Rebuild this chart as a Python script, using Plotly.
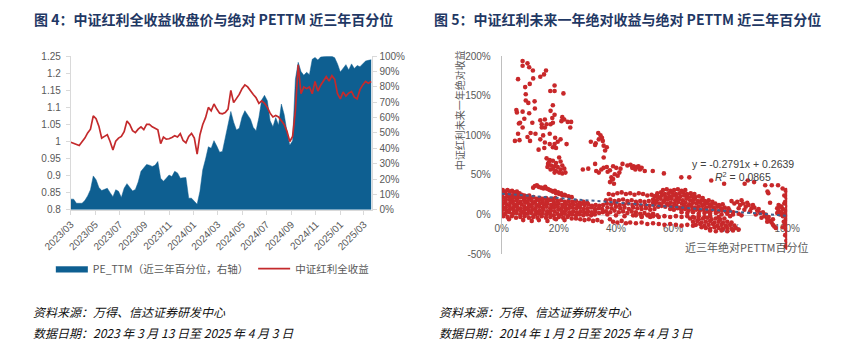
import pandas as pd
import plotly.graph_objects as go

# ---------------- left chart: weekly series, 2023-03-13 .. 2025-04-03 ----------------
start_date = "2023-03-13"
end_date = "2025-04-03"

# PE_TTM percentile over trailing three years (%), right axis
pe_pct = [
    6.9, 6.9, 4.2, 4.0, 4.2, 6.0, 9.0, 13.0, 22.0, 19.5,
    14.5, 12.5, 13.5, 14.0, 11.1, 8.5, 13.0, 12.0, 8.0, 14.0,
    17.0, 14.5, 12.2, 13.2, 18.0, 25.0, 27.3, 29.5, 29.0, 28.2,
    28.9, 31.4, 20.5, 18.5, 20.5, 22.6, 21.6, 25.0, 24.0, 20.5,
    20.8, 21.0, 7.5, 7.5, 5.5, 3.5, 12.0, 26.0, 33.0, 41.0,
    40.0, 45.0, 41.5, 37.5, 38.0, 47.0, 55.0, 64.0, 57.0, 52.0,
    53.0, 60.4, 64.5, 62.0, 59.0, 53.5, 51.5, 60.0, 71.5, 74.5,
    71.0, 58.0, 54.0, 60.0, 55.0, 68.8, 62.0, 51.0, 42.0, 45.0,
    85.0, 96.0, 90.0, 87.6, 89.5, 88.0, 98.0, 99.2, 97.5, 99.5,
    100.0, 100.0, 100.0, 100.0, 99.0, 95.0, 89.7, 92.5, 94.5, 91.0,
    95.0, 92.0, 93.9, 93.2, 95.0, 96.8, 97.3, 97.7,
]

# CSI Dividend total-return index (normalised close), left axis
index_close = [
    0.998, 0.994, 0.990, 0.988, 0.999, 1.010, 1.025, 1.036, 1.075, 1.067,
    1.045, 1.010, 1.015, 1.020, 1.000, 0.975, 1.001, 1.010, 1.015, 1.029,
    1.060, 1.050, 1.032, 1.026, 1.036, 1.043, 1.035, 1.050, 1.050, 1.043,
    1.039, 1.034, 0.994, 1.013, 1.007, 1.008, 1.012, 1.017, 1.013, 1.023,
    1.003, 0.996, 1.015, 1.024, 1.010, 0.963, 1.020, 1.050, 1.070, 1.100,
    1.090, 1.110, 1.095, 1.083, 1.081, 1.085, 1.095, 1.150, 1.114, 1.125,
    1.138, 1.155, 1.166, 1.160, 1.147, 1.138, 1.128, 1.112, 1.119, 1.112,
    1.100, 1.083, 1.072, 1.076, 1.072, 1.059, 1.050, 1.030, 1.000, 1.015,
    1.090, 1.225, 1.140, 1.160, 1.155, 1.160, 1.140, 1.176, 1.148, 1.165,
    1.178, 1.190, 1.177, 1.193, 1.182, 1.140, 1.125, 1.145, 1.133, 1.142,
    1.147, 1.130, 1.125, 1.152, 1.166, 1.176, 1.171, 1.176,
]

month_labels = ["2023/03", "2023/05", "2023/07", "2023/09", "2023/11",
                "2024/01", "2024/03", "2024/05", "2024/07", "2024/09",
                "2024/11", "2025/01", "2025/03"]

left_ticks = [0.8, 0.85, 0.9, 0.95, 1.0, 1.05, 1.1, 1.15, 1.2, 1.25]
right_ticks = [0, 0.1, 0.2, 0.3, 0.4, 0.5, 0.6, 0.7, 0.8, 0.9, 1.0]

# ---------------- right chart: (PE percentile %, forward 1y return %) ----------------
high_return_cloud = [
    (7.3, 194), (9.0, 191), (9.6, 186), (7.3, 188), (10.9, 182), (15.5, 182),
    (14.8, 177), (13.5, 174), (5.7, 171), (11.0, 172), (9.8, 165), (8.2, 161),
    (18.5, 163), (17.0, 156), (18.5, 156), (21.6, 153), (8.4, 152), (8.4, 144),
    (11.5, 143), (9.3, 141), (17.9, 138), (5.1, 132), (5.3, 129), (7.3, 130),
    (9.6, 128), (11.6, 134), (17.1, 131), (18.5, 126), (17.7, 122), (21.2, 123),
    (21.9, 120), (20.9, 118), (23.1, 117), (24.3, 117), (24.0, 110), (15.1, 120),
    (13.5, 119), (14.0, 114), (15.7, 114), (17.1, 114), (17.9, 116), (10.7, 116),
    (6.4, 116), (6.0, 115), (7.9, 121), (7.3, 110), (14.0, 110), (15.1, 110),
    (10.1, 103), (5.7, 102), (11.8, 102), (14.5, 100), (16.8, 102), (18.7, 97),
    (4.6, 93), (6.2, 94), (9.0, 98), (9.9, 93), (13.5, 95), (15.1, 91),
    (16.8, 89), (18.5, 89), (19.6, 92), (20.6, 95), (22.7, 89), (17.9, 85),
    (19.0, 84), (12.9, 82), (14.9, 84),
    (33.8, 103), (34.6, 100), (35.1, 97), (35.4, 93), (31.2, 92), (32.9, 90),
    (35.7, 87), (36.2, 81), (35.7, 72), (34.0, 95), (36.8, 85), (32.7, 88),
]

mid_return_cloud = [
    (15.7, 71), (16.8, 69), (17.9, 68), (16.2, 64), (17.3, 62), (18.5, 61),
    (19.6, 60), (20.6, 57), (20.1, 53), (21.2, 52), (22.3, 53), (19.0, 55),
    (20.1, 72), (20.6, 67), (21.2, 62), (16.0, 60), (17.1, 57), (18.5, 53),
    (16.5, 66), (19.0, 65), (21.9, 58), (18.0, 58),
    (28.4, 57), (30.3, 58), (32.7, 64), (33.1, 55), (34.0, 53), (34.9, 57),
    (35.7, 59), (36.8, 60), (37.1, 54), (37.9, 56), (39.0, 61), (40.1, 59),
    (41.6, 58), (42.3, 64), (41.2, 53), (39.6, 51), (38.4, 47), (39.0, 45),
    (40.6, 49), (37.9, 41), (39.3, 39), (38.6, 44), (44.0, 62), (45.1, 63),
    (46.2, 61), (47.3, 60), (48.4, 57), (45.7, 59), (46.8, 57), (47.9, 61),
    (49.0, 59), (50.1, 55), (52.9, 55), (56.8, 52),
    (62.9, 47), (65.7, 47), (73.4, 43), (77.9, 39), (85.1, 39), (86.2, 43),
    (88.4, 41), (92.3, 37), (94.6, 37), (98.4, 33), (99.6, 31), (93.4, 27),
    (94.0, 15), (96.8, 37), (99.0, 24), (93.1, 29),
]

low_pe_band = [
    (0.3, 31), (1.2, 29), (2.0, 31), (2.8, 29), (3.6, 30), (4.4, 28), (5.3, 29), (6.2, 27),
    (0.2, 26), (1.0, 27), (1.9, 25), (2.7, 26), (3.5, 24), (4.4, 26), (5.2, 25), (6.1, 24),
    (7.0, 25), (7.9, 24), (8.8, 23), (9.6, 24),
    (0.1, 22), (1.2, 21), (2.3, 23), (3.4, 21), (4.5, 22), (5.6, 21), (6.7, 22), (7.8, 20),
    (8.9, 22), (10.0, 21), (11.1, 22), (12.2, 20), (13.3, 21), (14.4, 20), (15.5, 21),
    (16.6, 19), (17.7, 20), (18.8, 21),
    (0.0, 18), (1.3, 17), (2.6, 19), (3.9, 17), (5.2, 18), (6.5, 16), (7.8, 18), (9.1, 17),
    (10.4, 18), (11.7, 16), (13.0, 18), (14.3, 17), (15.6, 16), (16.9, 18), (18.2, 16),
    (19.5, 17), (20.8, 18), (22.1, 16), (23.4, 17), (24.7, 16), (26.0, 17), (27.3, 15),
    (28.6, 16), (29.9, 15),
    (0.4, 14), (1.7, 13), (3.0, 15), (4.3, 13), (5.6, 14), (6.9, 13), (8.2, 15), (9.5, 13),
    (10.8, 14), (12.1, 12), (13.4, 14), (14.7, 13), (16.0, 14), (17.3, 12), (18.6, 13),
    (19.9, 14), (21.2, 12), (22.5, 13), (23.8, 12), (25.1, 13), (26.4, 12), (27.7, 13),
    (29.0, 12), (30.3, 13), (31.6, 11), (32.9, 12), (34.2, 11), (35.5, 12),
    (0.1, 10), (1.4, 9), (2.7, 11), (4.0, 9), (5.3, 10), (6.6, 8), (7.9, 10), (9.2, 9),
    (10.5, 10), (11.8, 8), (13.1, 10), (14.4, 9), (15.7, 10), (17.0, 8), (18.3, 9),
    (19.6, 10), (20.9, 8), (22.2, 9), (23.5, 8), (24.8, 9), (26.1, 8), (27.4, 9),
    (28.7, 7), (30.0, 8), (31.3, 9), (32.6, 7), (33.9, 8), (35.2, 7),
    (0.3, 6), (1.6, 5), (2.9, 7), (4.2, 5), (5.5, 6), (6.8, 4), (8.1, 6), (9.4, 5),
    (10.7, 6), (12.0, 4), (13.3, 5), (14.6, 6), (15.9, 4), (17.2, 5), (18.5, 4),
    (19.8, 6), (21.1, 4), (22.4, 5), (23.7, 3), (25.0, 4), (26.3, 3), (27.6, 4),
    (28.9, 3), (30.2, 4), (31.5, 3), (32.8, 4), (34.1, 2), (35.4, 3),
    (0.0, 2), (1.3, 1), (2.6, 3), (3.9, 1), (5.2, 2), (6.5, 0), (7.8, 2), (9.1, 1),
    (10.4, 2), (11.7, 0), (13.0, 1), (14.3, 2), (15.6, 0), (16.9, 1), (18.2, -1),
    (19.5, 1), (20.8, 0), (22.1, 1), (23.4, -1), (24.7, 0), (26.0, -1), (27.3, 0),
    (28.6, -1), (30.0, 0), (31.3, -1), (32.6, 0),
    (0.5, -2), (2.0, -3), (3.5, -2), (5.0, -4), (6.5, -3), (8.0, -2), (9.5, -4),
    (11.0, -3), (12.5, -4), (14.0, -2), (15.5, -4), (17.0, -3), (18.5, -5), (20.0, -3),
    (21.5, -4), (23.0, -3), (24.5, -5),
    (2.5, -6), (7.5, -7), (10.5, -8), (13.0, -7), (16.0, -8), (19.0, -6), (22.0, -7), (26.0, -5),
    (11.6, 36), (12.9, 35), (14.6, 33), (15.7, 33), (16.8, 31), (17.9, 29), (19.0, 27),
    (20.1, 26), (21.2, 24), (22.3, 24), (12.3, 37), (13.8, 34), (15.2, 35), (16.3, 32),
    (17.4, 30), (18.6, 30), (19.7, 28), (20.8, 27), (22.0, 25), (23.4, 23), (11.0, 34),
    (24.5, 22),
]

mid_pe_band = [
    (37.5, 26), (39.0, 25), (40.5, 27), (42.0, 28), (43.5, 26), (45.0, 27), (46.5, 25),
    (48.0, 27), (49.5, 26), (51.0, 24), (52.5, 25), (54.0, 23),
    (36.5, 18), (38.0, 19), (39.5, 17), (41.0, 18), (42.5, 19), (44.0, 17), (45.5, 18),
    (47.0, 16), (48.5, 17), (50.0, 16), (51.5, 17), (53.0, 15),
    (36.8, 14), (38.3, 13), (39.8, 14), (41.3, 12), (42.8, 13), (44.3, 14), (45.8, 12),
    (47.3, 13), (48.8, 11), (50.3, 12), (51.8, 11), (53.3, 12), (54.8, 10),
    (37.0, 9), (38.5, 8), (40.0, 10), (41.5, 8), (43.0, 9), (44.5, 7), (46.0, 9),
    (47.5, 8), (49.0, 7), (50.5, 8), (52.0, 6), (53.5, 7),
    (36.5, 4), (38.0, 3), (39.5, 5), (41.0, 3), (42.5, 4), (44.0, 2), (45.5, 4),
    (47.0, 3), (48.5, 1), (50.0, 2), (51.5, 0), (53.0, 1), (54.5, -1),
    (37.0, 0), (40.0, -1), (43.0, -2), (46.0, -1), (49.0, -3), (52.0, -3),
    (27.5, -6), (29.0, -7), (30.5, -6), (32.0, -8), (33.5, -7), (35.0, -9), (37.9, -6),
    (39.0, -9), (40.5, -10), (42.0, -8), (43.5, -11), (45.0, -10), (47.0, -11),
    (49.0, -10), (51.0, -12), (53.0, -11), (55.0, -12), (57.0, -13), (59.0, -12),
    (61.0, -13), (63.0, -14), (65.0, -13), (67.0, -14),
]

high_pe_band = [
    (56.5, 31), (57.8, 32), (59.1, 30), (60.4, 31), (61.7, 32), (63.0, 30), (64.3, 31),
    (54.5, 27), (55.8, 28), (57.1, 26), (58.4, 27), (59.7, 28), (61.0, 26), (62.3, 27),
    (63.6, 28), (64.9, 26), (66.2, 27), (67.5, 26),
    (53.5, 23), (54.8, 22), (56.1, 24), (57.4, 22), (58.7, 23), (60.0, 24), (61.3, 22),
    (62.6, 23), (63.9, 24), (65.2, 22), (66.5, 23), (67.8, 22), (69.1, 23), (70.4, 21),
    (53.0, 19), (54.3, 18), (55.6, 20), (56.9, 18), (58.2, 19), (59.5, 20), (60.8, 18),
    (62.1, 19), (63.4, 18), (64.7, 20), (66.0, 18), (67.3, 19), (68.6, 17), (69.9, 18),
    (71.2, 17), (72.5, 18), (73.8, 16),
    (54.0, 15), (55.3, 14), (56.6, 16), (57.9, 14), (59.2, 15), (60.5, 14), (61.8, 16),
    (63.1, 14), (64.4, 15), (65.7, 13), (67.0, 15), (68.3, 14), (69.6, 15), (70.9, 13),
    (72.2, 14), (73.5, 13), (74.8, 14), (76.1, 12), (77.4, 13),
    (56.0, 11), (57.3, 10), (58.6, 12), (59.9, 10), (61.2, 11), (62.5, 9), (63.8, 11),
    (65.1, 10), (66.4, 11), (67.7, 9), (69.0, 10), (70.3, 11), (71.6, 9), (72.9, 10),
    (74.2, 9), (75.5, 10), (76.8, 8), (78.1, 9), (79.4, 8),
    (59.0, 7), (60.3, 6), (61.6, 8), (62.9, 6), (64.2, 7), (65.5, 5), (66.8, 7),
    (68.1, 6), (69.4, 5), (70.7, 6), (72.0, 4), (73.3, 5), (74.6, 6), (75.9, 4),
    (77.2, 5), (78.5, 4), (79.8, 5), (81.1, 3),
    (63.0, 3), (65.0, 2), (67.0, 3), (69.0, 1), (71.0, 2), (73.0, 1), (75.0, 2),
    (77.0, 0), (79.0, 1), (81.0, 0), (83.0, 1),
    (47.0, -1), (49.0, -2), (51.0, -1), (53.0, -2), (55.0, -3), (57.0, -2), (59.0, -3),
    (61.0, -2), (63.0, -3), (65.0, -2), (67.0, -3), (69.0, -2), (71.0, -3), (73.0, -2),
    (76.0, -3), (80.0, -2), (84.0, -1),
    (66.0, -5), (67.5, -4), (69.0, -6), (70.5, -5), (72.0, -4), (73.5, -6), (75.0, -5),
    (76.5, -6), (78.0, -5),
    (67.0, -9), (68.5, -8), (70.0, -10), (71.5, -9), (73.0, -8), (74.5, -10), (76.0, -9),
    (77.5, -10), (79.0, -9), (80.5, -10),
    (68.0, -13), (69.5, -12), (71.0, -14), (72.5, -13), (74.0, -12), (75.5, -14),
    (77.0, -13), (78.5, -14), (80.0, -13), (81.5, -14),
    (70.0, -16), (71.5, -17), (73.0, -18), (74.5, -16), (76.0, -17), (77.5, -18),
    (79.0, -17), (80.5, -18), (82.0, -17),
    (73.0, -20), (75.0, -21), (77.0, -20), (79.0, -21), (81.0, -20), (83.0, -19),
]

top_pe_band = [
    (80.5, 17), (81.5, 14), (82.5, 16), (83.5, 12), (84.5, 14), (85.5, 10), (86.5, 12),
    (87.5, 8), (88.5, 9), (89.5, 5), (90.0, 7), (90.5, 2), (91.5, 3), (92.0, -2),
    (92.5, 0), (93.0, -5), (93.5, -3), (94.0, -8), (94.5, -10), (95.0, -13), (95.5, -15),
    (96.0, -17), (84.0, 18), (86.0, 15), (88.0, 12), (83.0, 8), (85.0, 6), (87.0, 4),
    (89.0, 0), (91.0, -4), (93.0, -9), (95.0, -6),
    (96.5, 8), (97.0, 5), (97.5, 10), (98.0, 3), (98.5, 7), (99.0, 1), (99.5, 5),
    (100.0, 9), (96.5, 2), (97.5, 0), (98.5, -2), (99.5, -1), (100.0, 3), (97.0, 12),
    (99.0, 14), (100.0, 12), (98.0, 10), (100.0, -3), (99.5, -6), (100.0, -9),
    (99.2, -12), (100.0, -15), (99.6, -19), (100.0, -23), (99.3, -26), (100.0, -29),
    (99.7, -33), (100.0, -37), (99.5, -40), (100.0, -42), (98.8, -9), (98.5, -16),
    (99.5, 30), (100.0, 27), (99.7, 22), (100.0, 18), (99.3, 16),
]

trend_slope = -0.2791
trend_intercept = 0.2639
trend_r2 = 0.0865

scatter_ticks = [-0.5, 0, 0.5, 1.0, 1.5, 2.0]
scatter_tick_text = ["-50%", "0%", "50%", "100%", "150%", "200%"]
pct_ticks = [0, 0.2, 0.4, 0.6, 0.8, 1.0]
pct_tick_text = ["0%", "20%", "40%", "60%", "80%", "100%"]

# ---------------- styling / layout helpers ----------------
W, H = 843, 348
BLUE = "#0E5F91"
RED = "#C42A2C"
DOT_RED = "#C8282A"
GREY_TXT = "#595959"
AXIS_GREY = "#D9D9D9"
NAVY = "#1F3864"
LATIN = "Liberation Sans, Noto Sans CJK SC, sans-serif"
CJK = "Noto Sans CJK SC, sans-serif"


def fx(px):
    return px / W


def fy(py):
    return 1 - py / H


dates = pd.date_range(start_date, periods=len(pe_pct), freq="7D")
tick_dates = [lab.replace("/", "-") + "-13" for lab in month_labels]

fig = go.Figure()

fig.add_trace(go.Scatter(
    x=dates, y=[v / 100 for v in pe_pct],
    name="PE_TTM（近三年百分位，右轴）",
    mode="lines", line=dict(color=BLUE, width=0.5),
    fill="tozeroy", fillcolor=BLUE,
    xaxis="x", yaxis="y",
))
fig.add_trace(go.Scatter(
    x=dates, y=index_close,
    name="中证红利全收益",
    mode="lines", line=dict(color=RED, width=1.7),
    xaxis="x", yaxis="y2",
))

all_points = high_return_cloud + mid_return_cloud + low_pe_band + mid_pe_band + high_pe_band + top_pe_band
fig.add_trace(go.Scatter(
    x=[p[0] / 100 for p in all_points], y=[p[1] / 100 for p in all_points],
    mode="markers", marker=dict(color=DOT_RED, size=4.6, line=dict(width=0)),
    showlegend=False, xaxis="x3", yaxis="y3",
))
fig.add_trace(go.Scatter(
    x=[0, 1], y=[trend_intercept, trend_intercept + trend_slope],
    mode="lines", line=dict(color="#3F5F8F", width=2, dash="dot"),
    showlegend=False, xaxis="x3", yaxis="y3",
))

left_dom_x = [fx(45), fx(362)]
left_dom_y = [fy(211), fy(52)]
right_dom_x = [fx(498), fx(798)]
right_dom_y = [fy(257), fy(52)]
sc_range = [-0.5, 2.0]
zero_pos = right_dom_y[0] + (0 - sc_range[0]) / (sc_range[1] - sc_range[0]) * (right_dom_y[1] - right_dom_y[0])

tick_font = dict(family=LATIN, size=10, color=GREY_TXT)

fig.update_layout(
    width=W, height=H, margin=dict(l=0, r=0, t=0, b=0),
    paper_bgcolor="white", plot_bgcolor="rgba(0,0,0,0)",
    showlegend=True,
    legend=dict(orientation="h", x=fx(24), y=fy(272), xanchor="left", yanchor="middle",
                font=dict(family=CJK, size=10.5, color=GREY_TXT), itemwidth=32,
                bgcolor="rgba(0,0,0,0)"),
    xaxis=dict(domain=left_dom_x, anchor="y", type="date",
               range=[start_date, end_date],
               tickvals=tick_dates, ticktext=month_labels, tickangle=-45,
               tickfont=tick_font, showgrid=False, zeroline=False,
               showline=True, linecolor=AXIS_GREY, ticks="outside", ticklen=4,
               tickcolor=AXIS_GREY),
    yaxis=dict(domain=left_dom_y, anchor="x", side="right", range=[0, 1],
               tickvals=right_ticks, tickformat=".0%", tickfont=tick_font,
               showgrid=False, zeroline=False, showline=True, linecolor=AXIS_GREY,
               ticks="outside", ticklen=4, tickcolor=AXIS_GREY),
    yaxis2=dict(overlaying="y", anchor="x", side="left", range=[0.8, 1.25],
                tickvals=left_ticks, tickfont=tick_font,
                showgrid=False, zeroline=False, showline=True, linecolor=AXIS_GREY,
                ticks="outside", ticklen=4, tickcolor=AXIS_GREY, ticklabelstandoff=3),
    xaxis3=dict(domain=right_dom_x, anchor="free", position=zero_pos, range=[0, 1],
                tickvals=pct_ticks, ticktext=pct_tick_text, tickfont=tick_font,
                showgrid=False, zeroline=False, showline=True, linecolor=AXIS_GREY,
                ticks="", layer="below traces", ticklabelstandoff=4),
    yaxis3=dict(domain=right_dom_y, anchor="x3", range=sc_range,
                tickvals=scatter_ticks, ticktext=scatter_tick_text, tickfont=tick_font,
                showgrid=False, zeroline=False, showline=True, linecolor="#BFBFBF",
                ticks="", ticklabelstandoff=8),
)

annotations = [
    dict(text="<b>图 4：中证红利全收益收盘价与绝对 PETTM 近三年百分位</b>",
         x=fx(4), y=fy(13), xanchor="left", yanchor="middle",
         font=dict(family=CJK, size=14, color=NAVY)),
    dict(text="<b>图 5：中证红利未来一年绝对收益与绝对 PETTM 近三年百分位</b>",
         x=fx(425), y=fy(13), xanchor="left", yanchor="middle",
         font=dict(family=CJK, size=14, color=NAVY)),
    dict(text="<i>资料来源：万得、信达证券研发中心</i>",
         x=fx(3), y=fy(316), xanchor="left", yanchor="middle",
         font=dict(family=CJK, size=12, color="#111111")),
    dict(text="<i>数据日期：2023 年 3 月 13 日至 2025 年 4 月 3 日</i>",
         x=fx(3), y=fy(338), xanchor="left", yanchor="middle",
         font=dict(family=CJK, size=12, color="#111111")),
    dict(text="<i>资料来源：万得、信达证券研发中心</i>",
         x=fx(430), y=fy(316), xanchor="left", yanchor="middle",
         font=dict(family=CJK, size=12, color="#111111")),
    dict(text="<i>数据日期：2014 年 1 月 2 日至 2025 年 4 月 3 日</i>",
         x=fx(430), y=fy(338), xanchor="left", yanchor="middle",
         font=dict(family=CJK, size=12, color="#111111")),
    dict(text="中证红利未来一年绝对收益", textangle=-90,
         x=fx(453), y=fy(108), xanchor="center", yanchor="middle",
         font=dict(family=CJK, size=10, color=GREY_TXT)),
    dict(text="近三年绝对PETTM百分位",
         x=fx(823), y=fy(250), xanchor="right", yanchor="middle",
         font=dict(family=CJK, size=11, color=GREY_TXT)),
    dict(text=f"y = {trend_slope}x + {trend_intercept}",
         x=fx(752), y=fy(164), xanchor="center", yanchor="middle",
         font=dict(family=LATIN, size=10.5, color="#404040")),
    dict(text=f"<i>R</i><sup>2</sup> = {trend_r2}",
         x=fx(752), y=fy(177), xanchor="center", yanchor="middle",
         font=dict(family=LATIN, size=10.5, color="#404040")),
]
for a in annotations:
    a.update(xref="paper", yref="paper", showarrow=False)
fig.update_layout(annotations=annotations)

fig.write_html("out.html")
